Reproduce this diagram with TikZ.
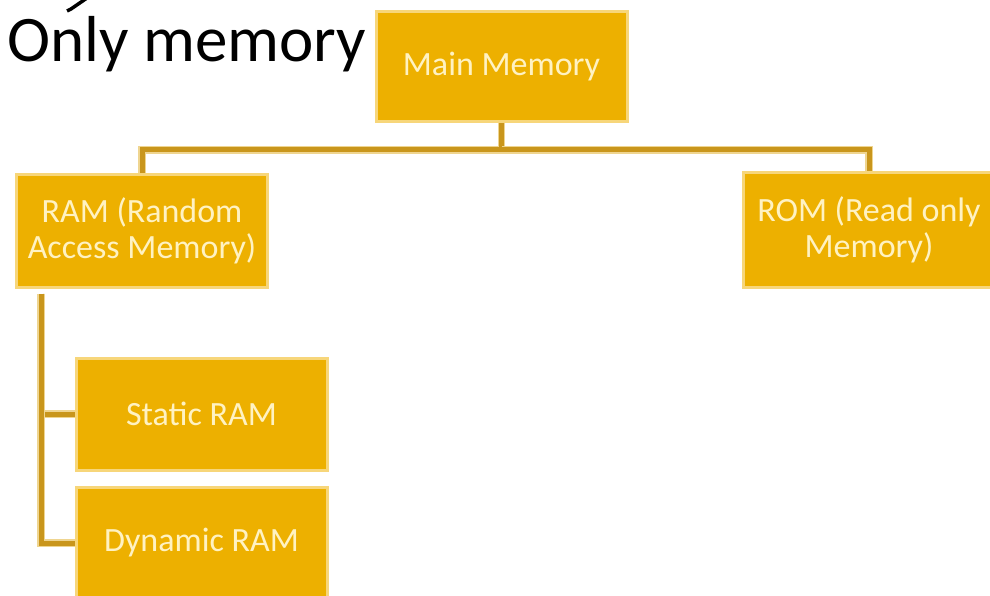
\documentclass[tikz,border=0pt]{standalone}
\usepackage{fontspec}
\setmainfont{Carlito}
\usetikzlibrary{calc}
\definecolor{boxfill}{HTML}{EDB000}
\definecolor{boxedge}{HTML}{F7D67A}
\definecolor{linkcol}{HTML}{C9961C}
\definecolor{linkhalo}{HTML}{EFD590}
\definecolor{boxtext}{HTML}{FFF2C2}
\begin{document}
\begin{tikzpicture}[x=1pt,y=1pt,
  membox/.style={draw=boxedge, line width=3pt, fill=boxfill, text=boxtext,
    minimum width=251pt, minimum height=110pt, inner sep=0pt, align=center,
    font=\fontsize{34}{36}\selectfont},
  link/.style={draw=linkcol, line width=5pt,
    preaction={draw=linkhalo, line width=7.5pt}},
  title/.style={font=\fontsize{65}{72}\selectfont, text=black, inner sep=0pt, anchor=base west}]
\useasboundingbox (0,0) rectangle (990,-596);
\fill[white] (0,0) rectangle (990,-596);
\begin{scope}
  \clip (0,0) rectangle (990,-596);
  % tail of a letter from the heading line above the top edge
  \draw[black, line width=3.5pt] (67,-11) -- (71,-9) -- (87,2);
  \node[title] (head1) at (7,-62) {Only memory};
  % boxes
  \node[membox] (main) at (501.5,-66.5) {Main Memory};
  \node[membox, minimum height=112pt] (ram) at (142,-231) {RAM (Random\\Access Memory)};
  \node[membox, minimum height=114pt] (rom) at (869,-230) {ROM (Read only\\Memory)};
  \node[membox, minimum height=112pt] (sram) at (201.5,-414) {Static RAM};
  \node[membox, minimum height=112pt] (dram) at (201.5,-543) {Dynamic RAM};
  % connectors
  \coordinate (bus) at ($(main.south)+(0,-27)$);
  \draw[link] (main.south) -- (bus) -| (ram.north);
  \draw[link] (bus) -| (rom.north);
  \coordinate (trunk) at ($(ram.south west)+(26,-5)$);
  \draw[link] (trunk) |- (sram.west);
  \draw[link] (trunk) |- (dram.west);
\end{scope}
\end{tikzpicture}
\end{document}
